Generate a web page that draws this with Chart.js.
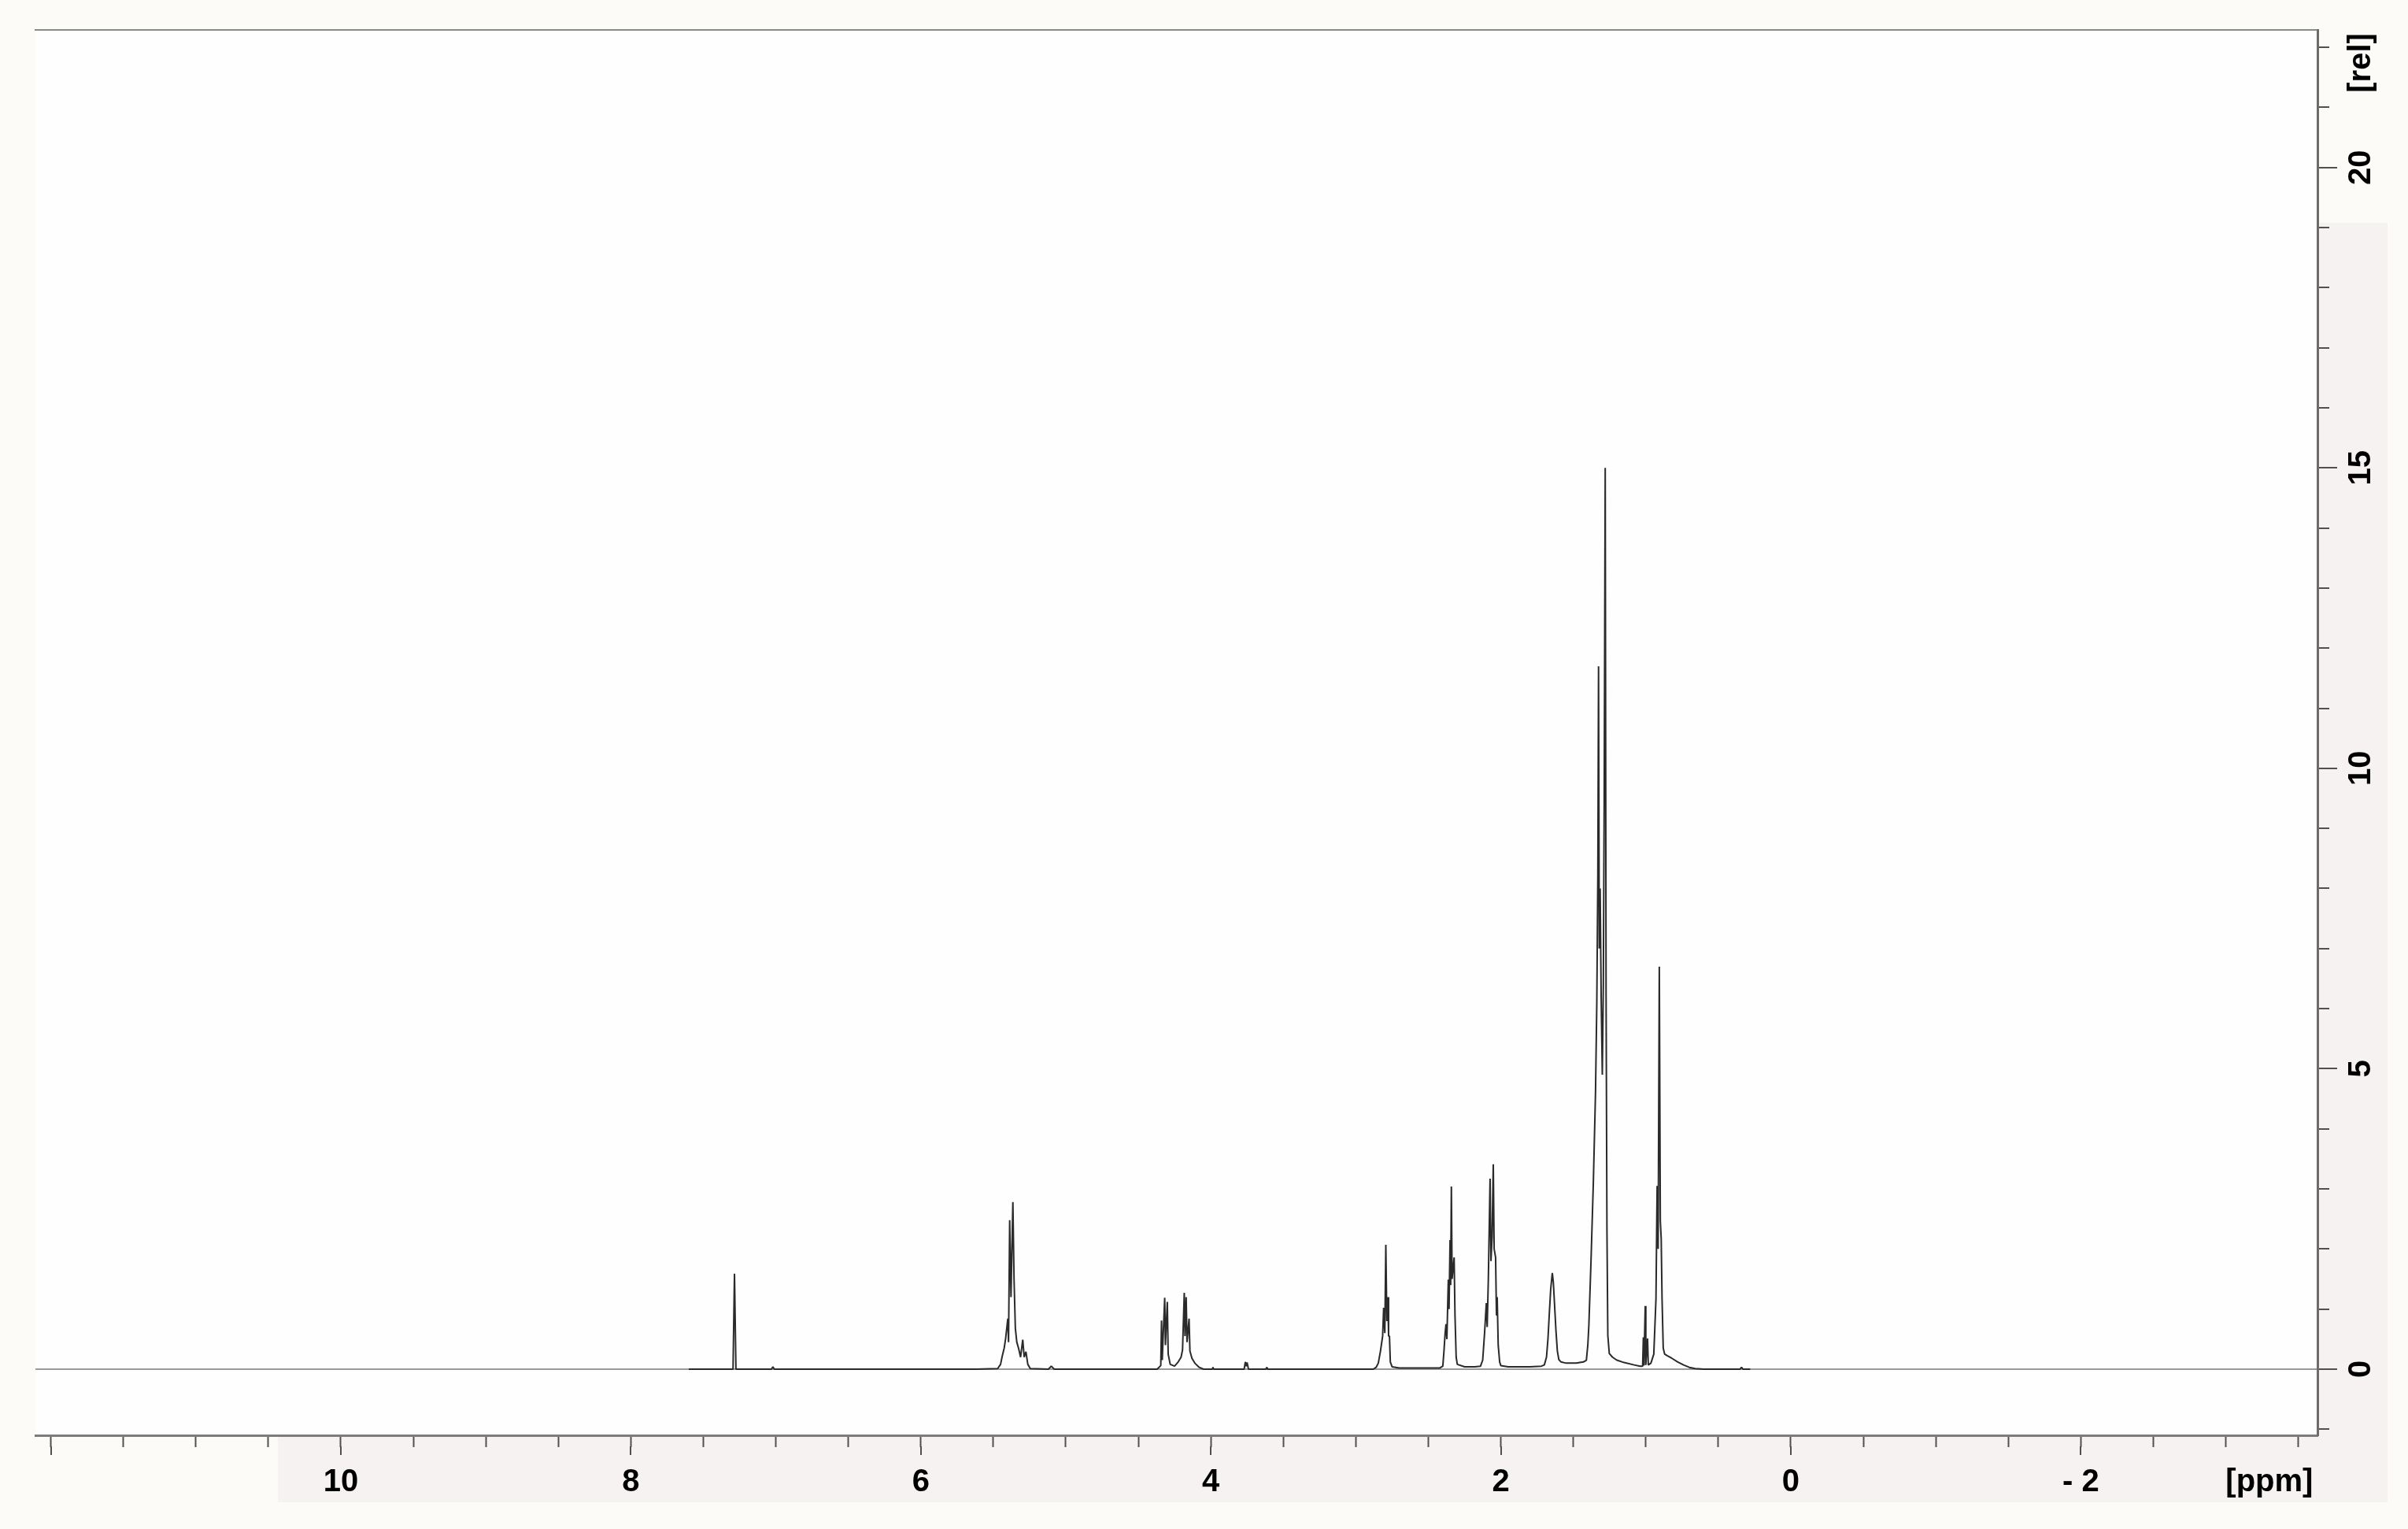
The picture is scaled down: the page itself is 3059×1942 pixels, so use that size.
<!DOCTYPE html>
<html>
<head>
<meta charset="utf-8">
<script src="https://cdn.jsdelivr.net/npm/chart.js@4.4.1/dist/chart.umd.min.js"></script>
<style>
html,body{margin:0;padding:0;background:#fcfbf7;}
canvas{display:block;}
</style>
</head>
<body>
<canvas id="c" width="3059" height="1942"></canvas>
<script>
// ---- Spectrum as [ppm, intensity] pairs, grouped by multiplet ----
const leadIn = [[7.60, 0]];
const chcl3 = [[7.295, 0], [7.285, 1.59], [7.275, 0], [7.03, 0], [7.02, 0.04], [7.01, 0]];
const olefinic = [[5.62, 0], [5.47, 0.01], [5.45, 0.08], [5.44, 0.2], [5.425, 0.35], [5.415, 0.51], [5.40, 0.84],
  [5.395, 0.45], [5.387, 2.48], [5.378, 1.2], [5.365, 2.78], [5.357, 1.5], [5.348, 0.68], [5.338, 0.45],
  [5.325, 0.34], [5.312, 0.2], [5.297, 0.49], [5.287, 0.2], [5.275, 0.29], [5.262, 0.08], [5.245, 0.01],
  [5.12, 0], [5.10, 0.05], [5.08, 0]];
const glycerol = [[4.37, 0], [4.345, 0.06], [4.340, 0.81], [4.335, 0.15], [4.318, 1.19], [4.313, 0.4],
  [4.300, 1.12], [4.294, 0.25], [4.28, 0.08], [4.25, 0.05], [4.225, 0.12], [4.205, 0.2], [4.195, 0.32],
  [4.183, 1.27], [4.178, 0.55], [4.170, 1.2], [4.164, 0.45], [4.150, 0.84], [4.144, 0.3], [4.13, 0.18],
  [4.11, 0.1], [4.08, 0.03], [4.05, 0]];
const minorSignals = [[3.99, 0], [3.985, 0.03], [3.98, 0], [3.77, 0], [3.762, 0.12], [3.756, 0.05],
  [3.75, 0.11], [3.74, 0], [3.62, 0], [3.615, 0.03], [3.61, 0]];
const bisAllylic = [[2.88, 0], [2.86, 0.03], [2.845, 0.1], [2.83, 0.3], [2.815, 0.55], [2.808, 1.02],
  [2.800, 0.6], [2.793, 2.07], [2.786, 0.8], [2.779, 1.2], [2.774, 0.55], [2.768, 0.55], [2.762, 0.12],
  [2.75, 0.04], [2.70, 0.02]];
const alphaCarbonyl = [[2.42, 0.02], [2.40, 0.05], [2.392, 0.3], [2.384, 0.6], [2.378, 0.75], [2.372, 0.5],
  [2.362, 1.49], [2.357, 1.0], [2.350, 2.15], [2.346, 1.4], [2.341, 3.04], [2.336, 1.5], [2.322, 1.86],
  [2.316, 0.9], [2.308, 0.2], [2.30, 0.08], [2.25, 0.04], [2.18, 0.04]];
const allylic = [[2.14, 0.05], [2.125, 0.15], [2.112, 0.6], [2.100, 1.1], [2.094, 0.7], [2.086, 1.5],
  [2.074, 3.17], [2.068, 1.8], [2.060, 2.2], [2.052, 3.41], [2.046, 2.0], [2.036, 1.86], [2.030, 0.9],
  [2.025, 1.2], [2.018, 0.4], [2.008, 0.12], [2.00, 0.06], [1.95, 0.04], [1.80, 0.04], [1.72, 0.05]];
const betaCarbonyl = [[1.70, 0.07], [1.685, 0.2], [1.675, 0.5], [1.665, 0.95], [1.656, 1.33], [1.645, 1.6],
  [1.638, 1.45], [1.630, 1.1], [1.620, 0.65], [1.610, 0.3], [1.60, 0.16], [1.585, 0.12], [1.55, 0.1],
  [1.48, 0.1], [1.43, 0.12]];
const methylene = [[1.41, 0.15], [1.400, 0.4], [1.393, 0.72], [1.378, 1.8], [1.362, 3.1], [1.347, 4.6],
  [1.338, 6.1], [1.331, 8.2], [1.326, 11.7], [1.321, 7.0], [1.315, 8.0], [1.308, 6.2], [1.300, 4.9],
  [1.293, 6.4], [1.287, 9.5], [1.280, 15.0], [1.274, 6.2], [1.268, 2.3], [1.262, 0.56], [1.252, 0.26],
  [1.23, 0.2], [1.20, 0.15], [1.15, 0.11], [1.08, 0.07], [1.04, 0.05]];
const nearOne = [[1.022, 0.05], [1.017, 0.53], [1.013, 0.06], [1.004, 1.05], [1.000, 0.07], [0.988, 0.51],
  [0.983, 0.07], [0.965, 0.1]];
const methyl = [[0.945, 0.25], [0.930, 1.17], [0.922, 3.05], [0.915, 2.0], [0.907, 6.7], [0.900, 2.47],
  [0.894, 2.18], [0.888, 1.17], [0.880, 0.35], [0.87, 0.25], [0.85, 0.22], [0.82, 0.18], [0.78, 0.12],
  [0.74, 0.07], [0.70, 0.03], [0.66, 0.01], [0.60, 0], [0.35, 0], [0.34, 0.03], [0.33, 0], [0.28, 0]];

// ---- Axis ticks and labels ----
const xMajorTicks = [12, 10, 8, 6, 4, 2, 0, -2];
const xMinorTicks = [11.5, 11, 10.5, 9.5, 9, 8.5, 7.5, 7, 6.5, 5.5, 5, 4.5, 3.5, 3, 2.5, 1.5, 1, 0.5,
  -0.5, -1, -1.5, -2.5, -3, -3.5];
const xLabelValues = [10, 8, 6, 4, 2, 0, -2];
const xLabelTexts = ['10', '8', '6', '4', '2', '0', '- 2'];
const xUnit = '[ppm]';
const xUnitAt = -3.3;
const yMajorTicks = [0, 5, 10, 15, 20];
const yMinorTicks = [-1, 1, 2, 3, 4, 6, 7, 8, 9, 11, 12, 13, 14, 16, 17, 18, 19, 21, 22];
const yLabelTexts = ['0', '5', '10', '15', '20'];
const yUnit = '[rel]';
const yUnitAt = 21.74;

const regions = [leadIn, chcl3, olefinic, glycerol, minorSignals, bisAllylic, alphaCarbonyl, allylic,
  betaCarbonyl, methylene, nearOne, methyl];
const spectrum = [].concat(...regions).map(([x, y]) => ({x, y}));

const FONT = "'Liberation Sans', Arial, sans-serif";
const FSIZE = 40;
const meas = document.createElement('canvas').getContext('2d');
meas.font = `bold ${FSIZE}px ${FONT}`;
const widest = Math.max(...yLabelTexts.concat([yUnit]).map(t => meas.measureText(t).width));
const yPad = Math.max(0, 41 - widest / 2);

const xTickValues = xMajorTicks.concat(xMinorTicks, [xUnitAt]).sort((a, b) => a - b);
const yTickValues = yMajorTicks.concat(yMinorTicks, [yUnitAt]).sort((a, b) => a - b);
function xLabel(v) {
  const i = xLabelValues.indexOf(v);
  if (i >= 0) return xLabelTexts[i];
  return v === xUnitAt ? xUnit : '';
}
function yLabel(v) {
  const i = yMajorTicks.indexOf(v);
  if (i >= 0) return yLabelTexts[i];
  return v === yUnitAt ? yUnit : '';
}

const TICK = '#505050';
const bgPlugin = {
  id: 'bg',
  beforeDraw(chart) {
    const {ctx, chartArea: a} = chart;
    ctx.save();
    ctx.fillStyle = '#fcfbf7';
    ctx.fillRect(0, 0, chart.width, chart.height);
    ctx.fillStyle = '#f7f2f2';
    ctx.fillRect(a.right, 283, 3033 - a.right, 1908 - 283);
    ctx.fillRect(353, a.bottom, 3033 - 353, 1908 - a.bottom);
    ctx.fillStyle = '#fefefe';
    ctx.fillRect(a.left, a.top, a.right - a.left, a.bottom - a.top);
    ctx.restore();
  }
};
const majorTickPlugin = {
  id: 'majorTicks',
  afterDraw(chart) {
    const {ctx} = chart;
    const xs = chart.scales.x, ys = chart.scales.y;
    ctx.save();
    ctx.strokeStyle = TICK;
    ctx.lineWidth = 2;
    ctx.beginPath();
    xMajorTicks.forEach(v => {
      const p = Math.round(xs.getPixelForValue(v) - 1) + 1;
      ctx.moveTo(p, xs.top + 14);
      ctx.lineTo(p, xs.top + 25);
    });
    yMajorTicks.forEach(v => {
      const p = Math.round(ys.getPixelForValue(v) - 1) + 1;
      ctx.moveTo(ys.left + 14, p);
      ctx.lineTo(ys.left + 25, p);
    });
    ctx.stroke();
    ctx.restore();
  }
};

const labelFont = {family: FONT, size: FSIZE, weight: 'bold'};
new Chart(document.getElementById('c'), {
  type: 'line',
  data: {
    datasets: [{
      data: spectrum,
      borderColor: '#2a2a2a',
      borderWidth: 2,
      borderJoinStyle: 'bevel',
      pointRadius: 0,
      tension: 0,
      fill: false
    }]
  },
  options: {
    responsive: false,
    devicePixelRatio: 1,
    animation: false,
    layout: {padding: {left: 45, top: 38, right: 25, bottom: 29}},
    plugins: {legend: {display: false}, tooltip: {enabled: false}, title: {display: false}},
    scales: {
      x: {
        type: 'linear', position: 'bottom', reverse: true, min: -3.632, max: 12.106,
        afterBuildTicks: s => { s.ticks = xTickValues.map(v => ({value: v})); },
        afterFit: s => { s.height = 90; },
        ticks: {autoSkip: false, maxRotation: 0, minRotation: 0, padding: 21, color: '#000',
          font: labelFont, callback: v => xLabel(v)},
        grid: {drawOnChartArea: false, tickLength: 15, tickWidth: 2,
          tickColor: c => (c.tick && c.tick.value === xUnitAt) ? 'rgba(0,0,0,0)' : TICK},
        border: {display: true, color: '#7c7c7c', width: 3}
      },
      x2: {
        type: 'linear', position: 'top', reverse: true, min: -3.632, max: 12.106,
        afterFit: s => { s.height = 0; },
        ticks: {display: false},
        grid: {drawOnChartArea: false, drawTicks: false},
        border: {display: true, color: '#8a8a8a', width: 2}
      },
      y: {
        type: 'linear', position: 'right', min: -1.101, max: 22.29,
        afterBuildTicks: s => { s.ticks = yTickValues.map(v => ({value: v})); },
        afterFit: s => { s.width = 90; },
        ticks: {autoSkip: false, minRotation: 90, maxRotation: 90, crossAlign: 'center', padding: yPad,
          color: '#000', font: labelFont, callback: v => yLabel(v)},
        grid: {drawOnChartArea: true, lineWidth: 2, tickLength: 15, tickWidth: 2,
          color: c => (c.tick && c.tick.value === 0) ? '#9a9a9a' : 'rgba(0,0,0,0)',
          tickColor: c => (c.tick && c.tick.value === yUnitAt) ? 'rgba(0,0,0,0)' : TICK},
        border: {display: true, color: '#6c6c6c', width: 3}
      }
    }
  },
  plugins: [bgPlugin, majorTickPlugin]
});
</script>
</body>
</html>
